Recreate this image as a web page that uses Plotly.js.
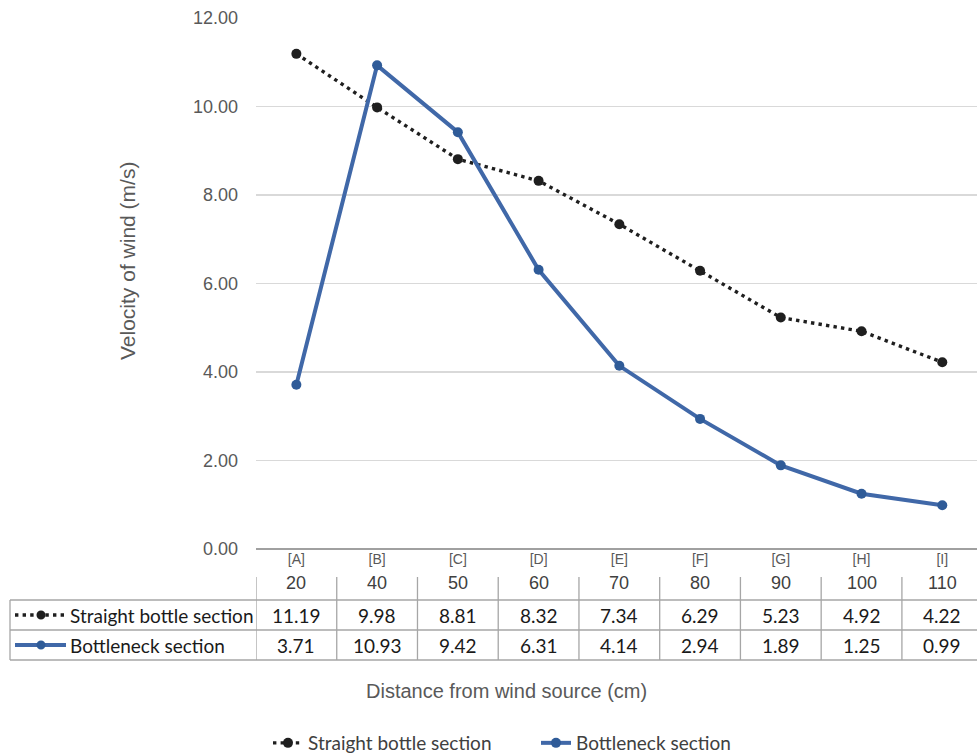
<!DOCTYPE html>
<html>
<head>
<meta charset="utf-8">
<script src="https://cdn.plot.ly/plotly-3.0.1.min.js"></script>
<style>html,body{margin:0;padding:0;background:#fff;}#chart{width:977px;height:755px;}</style>
</head>
<body>
<div id="chart"></div>
<script>
// ---- data ----
const pointLabels = ['[A]','[B]','[C]','[D]','[E]','[F]','[G]','[H]','[I]'];
const distances = [20, 40, 50, 60, 70, 80, 90, 100, 110];
const straight = [11.19, 9.98, 8.81, 8.32, 7.34, 6.29, 5.23, 4.92, 4.22];
const bottleneck = [3.71, 10.93, 9.42, 6.31, 4.14, 2.94, 1.89, 1.25, 0.99];
const seriesNames = ['Straight bottle section', 'Bottleneck section'];
const yTicks = [0, 2, 4, 6, 8, 10, 12];
const xTitle = 'Distance from wind source (cm)';
const yTitle = 'Velocity of wind (m/s)';

// ---- geometry helpers (pixels -> paper) ----
const W = 977, H = 755;
const L = 256, R = 977, T = 18, B = 549;
const px = p => (p - L) / (R - L);
const py = p => (B - p) / (B - T);

const blue = '#4068A8', blueMarker = '#2F5B98', dark = '#1f1f1f';
const gridCol = '#D9D9D9', tableCol = '#A6A6A6';
const arial = '"Liberation Sans", Arial, sans-serif';
const cal = 'Lato, sans-serif';

const traces = [
  {x: pointLabels, y: straight, name: seriesNames[0], type: 'scatter', mode: 'lines+markers',
   line: {color: dark, width: 3.4, dash: '3.4px,4.2px'}, marker: {color: dark, size: 10}},
  {x: pointLabels, y: bottleneck, name: seriesNames[1], type: 'scatter', mode: 'lines+markers',
   line: {color: blue, width: 4}, marker: {color: blueMarker, size: 10}}
];

const annotations = [];
const shapes = [];
// header row numbers and data table values
pointLabels.forEach((lab, i) => {
  annotations.push({x: i, xref: 'x', y: py(583), yref: 'paper', text: String(distances[i]),
    showarrow: false, xanchor: 'center', yanchor: 'middle', font: {family: arial, size: 18, color: '#404040'}});
  annotations.push({x: i, xref: 'x', y: py(615), yref: 'paper', text: straight[i].toFixed(2),
    showarrow: false, xanchor: 'center', yanchor: 'middle', font: {family: cal, size: 19, color: '#1a1a1a'}});
  annotations.push({x: i, xref: 'x', y: py(645), yref: 'paper', text: bottleneck[i].toFixed(2),
    showarrow: false, xanchor: 'center', yanchor: 'middle', font: {family: cal, size: 19, color: '#1a1a1a'}});
});
// row names
[[615, seriesNames[0]], [645, seriesNames[1]]].forEach(([yy, t]) => {
  annotations.push({x: px(68), xref: 'paper', y: py(yy), yref: 'paper', text: t, showarrow: false,
    xanchor: 'left', yanchor: 'middle', font: {family: cal, size: 19, color: '#1a1a1a'}});
});
// axis titles
annotations.push({x: px(506), xref: 'paper', y: py(691), yref: 'paper', text: xTitle, showarrow: false,
  xanchor: 'center', yanchor: 'middle', font: {family: arial, size: 20, color: '#595959'}});
annotations.push({x: px(127), xref: 'paper', y: py(261), yref: 'paper', text: yTitle, showarrow: false,
  textangle: -90, xanchor: 'center', yanchor: 'middle', font: {family: arial, size: 21, color: '#595959'}});
// table grid lines
[600, 630, 660].forEach(yy => shapes.push({type: 'line', xref: 'paper', yref: 'paper',
  x0: px(10), x1: 1, y0: py(yy), y1: py(yy), line: {color: tableCol, width: 1.3}}));
shapes.push({type: 'line', xref: 'paper', yref: 'paper', x0: px(10), x1: px(10), y0: py(600), y1: py(660),
  line: {color: tableCol, width: 1.3}});
for (let k = 0; k < pointLabels.length; k++) {
  shapes.push({type: 'line', xref: 'x', yref: 'paper', x0: k - 0.5, x1: k - 0.5, y0: py(577), y1: py(660),
    line: {color: tableCol, width: 1.3}});
}
// table legend keys
shapes.push({type: 'line', xref: 'paper', yref: 'paper', x0: px(15), x1: px(66), y0: py(615), y1: py(615),
  line: {color: dark, width: 3.4, dash: '3.4px,4.2px'}});
shapes.push({type: 'circle', xref: 'paper', yref: 'paper', xsizemode: 'pixel', ysizemode: 'pixel',
  xanchor: px(41), yanchor: py(615), x0: -4.5, x1: 4.5, y0: -4.5, y1: 4.5,
  fillcolor: dark, line: {width: 0}});
shapes.push({type: 'line', xref: 'paper', yref: 'paper', x0: px(15), x1: px(66), y0: py(645), y1: py(645),
  line: {color: blue, width: 4}});
shapes.push({type: 'circle', xref: 'paper', yref: 'paper', xsizemode: 'pixel', ysizemode: 'pixel',
  xanchor: px(41), yanchor: py(645), x0: -4.5, x1: 4.5, y0: -4.5, y1: 4.5,
  fillcolor: blueMarker, line: {width: 0}});

const layout = {
  width: W, height: H,
  margin: {l: L, r: W - R, t: T, b: H - B, pad: 0, autoexpand: false},
  paper_bgcolor: '#fff', plot_bgcolor: '#fff',
  showlegend: true,
  legend: {orientation: 'h', x: px(268), xanchor: 'left', y: py(743), yanchor: 'middle',
    font: {family: cal, size: 19, color: '#404040'}, entrywidth: 223, entrywidthmode: 'pixels',
    bgcolor: 'rgba(0,0,0,0)', traceorder: 'normal'},
  xaxis: {type: 'category', range: [-0.5, 8.43], showgrid: false, zeroline: false, automargin: false,
    showline: false, ticks: '', ticklabelstandoff: 0, tickfont: {family: arial, size: 14, color: '#595959'},
    fixedrange: true},
  yaxis: {range: [0, 12], tickvals: yTicks, ticktext: yTicks.map(v => v.toFixed(2)), automargin: false,
    showgrid: true, gridcolor: gridCol, gridwidth: 1.3, zeroline: true, zerolinecolor: '#A0A0A0', zerolinewidth: 1.3,
    showline: false, ticks: '', ticklabelstandoff: 17,
    tickfont: {family: arial, size: 18, color: '#595959'}, fixedrange: true},
  annotations: annotations,
  shapes: shapes
};

Plotly.newPlot('chart', traces, layout, {displayModeBar: false, staticPlot: true});
</script>
</body>
</html>
